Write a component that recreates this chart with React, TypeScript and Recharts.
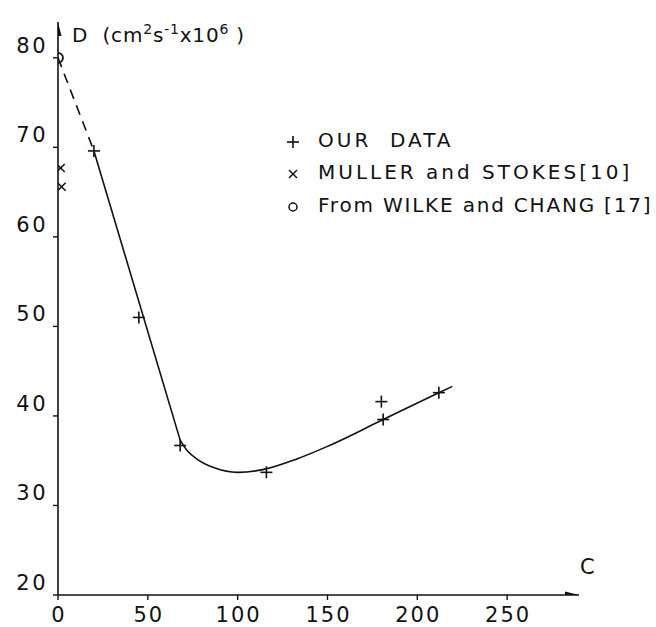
import React from 'react';
import { ComposedChart, XAxis, YAxis, Line, Scatter } from 'recharts';

// Concentration C (x) and diffusion coefficient D (y, cm^2 s^-1 x 10^6)
const ourData = [
  { x: 20, y: 69.6 },
  { x: 45, y: 51.0 },
  { x: 68, y: 36.7 },
  { x: 116, y: 33.7 },
  { x: 180, y: 41.6 },
  { x: 181, y: 39.6 },
  { x: 212, y: 42.6 },
];
const mullerStokes = [
  { x: 1.5, y: 67.7 },
  { x: 2, y: 65.6 },
];
const wilkeChang = [{ x: 0, y: 80 }];
const fitStraight = [
  { x: 20, y: 69.6 },
  { x: 68, y: 37.3 },
];
const fitCurve = [
  { x: 68, y: 37.3 },
  { x: 72, y: 36.1 },
  { x: 78, y: 35.1 },
  { x: 87, y: 34.2 },
  { x: 100, y: 33.7 },
  { x: 114, y: 34.0 },
  { x: 133, y: 35.2 },
  { x: 150, y: 36.6 },
  { x: 181, y: 39.6 },
  { x: 212, y: 42.6 },
  { x: 219.5, y: 43.3 },
];
const extrapolation = [
  { x: 0, y: 80 },
  { x: 20, y: 69.6 },
];
const xTicks = [0, 50, 100, 150, 200, 250];
const yTicks = [20, 30, 40, 50, 60, 70, 80];
const xArrow = [{ x: 290, y: 20 }];
const yArrow = [{ x: 0, y: 84 }];

const INK = '#111';
const FONT = '"DejaVu Sans", sans-serif';

const Plus = (p: any) => (
  <g stroke={INK} strokeWidth={1.6}>
    <line x1={p.cx - 6} y1={p.cy} x2={p.cx + 6} y2={p.cy} />
    <line x1={p.cx} y1={p.cy - 6} x2={p.cx} y2={p.cy + 6} />
  </g>
);
const Cross = (p: any) => (
  <g stroke={INK} strokeWidth={1.5}>
    <line x1={p.cx - 4} y1={p.cy - 4} x2={p.cx + 4} y2={p.cy + 4} />
    <line x1={p.cx - 4} y1={p.cy + 4} x2={p.cx + 4} y2={p.cy - 4} />
  </g>
);
const Circle = (p: any) => (
  <circle cx={p.cx} cy={p.cy} r={5} fill="none" stroke={INK} strokeWidth={1.7} />
);
const ArrowRight = (p: any) => (
  <polygon points={`${p.cx},${p.cy} ${p.cx - 14},${p.cy - 3.5} ${p.cx - 14},${p.cy + 3.5}`} fill={INK} />
);
const ArrowUp = (p: any) => (
  <polygon points={`${p.cx},${p.cy} ${p.cx - 3.5},${p.cy + 14} ${p.cx + 3.5},${p.cy + 14}`} fill={INK} />
);

const XTick = (p: any) => (
  <text x={p.x + 1} y={p.y + 13} textAnchor="middle" dominantBaseline="central" fontFamily={FONT} fontSize={21} letterSpacing={2} fill={INK}>
    {p.payload.value}
  </text>
);
const YTick = (p: any) => (
  <text x={p.x - 3} y={p.y - 12} textAnchor="end" dominantBaseline="central" fontFamily={FONT} fontSize={21} letterSpacing={2.5} fill={INK}>
    {p.payload.value}
  </text>
);

const legendRows = [
  { label: 'OUR  DATA', marker: 'plus', top: 140, ls: 3 },
  { label: 'MULLER and STOKES[10]', marker: 'cross', top: 172, ls: 3 },
  { label: 'From WILKE and CHANG [17]', marker: 'circle', top: 205, ls: 1.8 },
];

const LegendMarker = ({ kind }: { kind: string }) => (
  <svg width={14} height={14} style={{ position: 'absolute', left: 286, top: -5 }}>
    {kind === 'plus' && <Plus cx={7} cy={7} />}
    {kind === 'cross' && <Cross cx={7} cy={7} />}
    {kind === 'circle' && <circle cx={7} cy={7} r={4} fill="none" stroke={INK} strokeWidth={1.5} />}
  </svg>
);

export default function App() {
  return (
    <div style={{ position: 'absolute', left: 0, top: 0, width: 656, height: 627, background: '#fff' }}>
      <ComposedChart width={656} height={627} margin={{ top: 22, right: 77, bottom: 0, left: 0 }}>
        <XAxis
          type="number"
          dataKey="x"
          domain={[0, 290]}
          ticks={xTicks}
          height={32}
          tickSize={5}
          tick={<XTick />}
          axisLine={{ stroke: INK, strokeWidth: 1.6 }}
          tickLine={{ stroke: INK, strokeWidth: 1.4 }}
          allowDataOverflow
        />
        <YAxis
          type="number"
          dataKey="y"
          domain={[20, 84]}
          ticks={yTicks}
          width={58}
          tickSize={5}
          tick={<YTick />}
          axisLine={{ stroke: INK, strokeWidth: 1.6 }}
          tickLine={{ stroke: INK, strokeWidth: 1.4 }}
          allowDataOverflow
        />
        <Line data={extrapolation} dataKey="y" type="linear" stroke={INK} strokeWidth={1.6} strokeDasharray="10 7" dot={false} isAnimationActive={false} />
        <Line data={fitStraight} dataKey="y" type="linear" stroke={INK} strokeWidth={1.6} dot={false} isAnimationActive={false} />
        <Line data={fitCurve} dataKey="y" type="monotone" stroke={INK} strokeWidth={1.6} dot={false} isAnimationActive={false} />
        <Scatter data={ourData} shape={<Plus />} isAnimationActive={false} />
        <Scatter data={mullerStokes} shape={<Cross />} isAnimationActive={false} />
        <Scatter data={wilkeChang} shape={<Circle />} isAnimationActive={false} />
        <Scatter data={xArrow} shape={<ArrowRight />} isAnimationActive={false} />
        <Scatter data={yArrow} shape={<ArrowUp />} isAnimationActive={false} />
      </ComposedChart>

      <div style={{ position: 'absolute', left: 72, top: 17, fontFamily: FONT, fontSize: 20, color: INK, whiteSpace: 'pre', lineHeight: '24px', letterSpacing: 0.8 }}>
        D  (cm<sup style={{ fontSize: 14 }}>2</sup>s<sup style={{ fontSize: 14 }}>-1</sup>x10<sup style={{ fontSize: 14 }}>6</sup> )
      </div>
      <div style={{ position: 'absolute', left: 580, top: 555, fontFamily: FONT, fontSize: 21, color: INK, lineHeight: '24px' }}>C</div>

      {legendRows.map((r) => (
        <div key={r.label} style={{ position: 'absolute', left: 0, top: r.top, width: 656 }}>
          <LegendMarker kind={r.marker} />
          <span style={{ position: 'absolute', left: 318, top: -12, fontFamily: FONT, fontSize: 20, color: INK, whiteSpace: 'pre', lineHeight: '24px', letterSpacing: r.ls }}>
            {r.label}
          </span>
        </div>
      ))}
    </div>
  );
}
